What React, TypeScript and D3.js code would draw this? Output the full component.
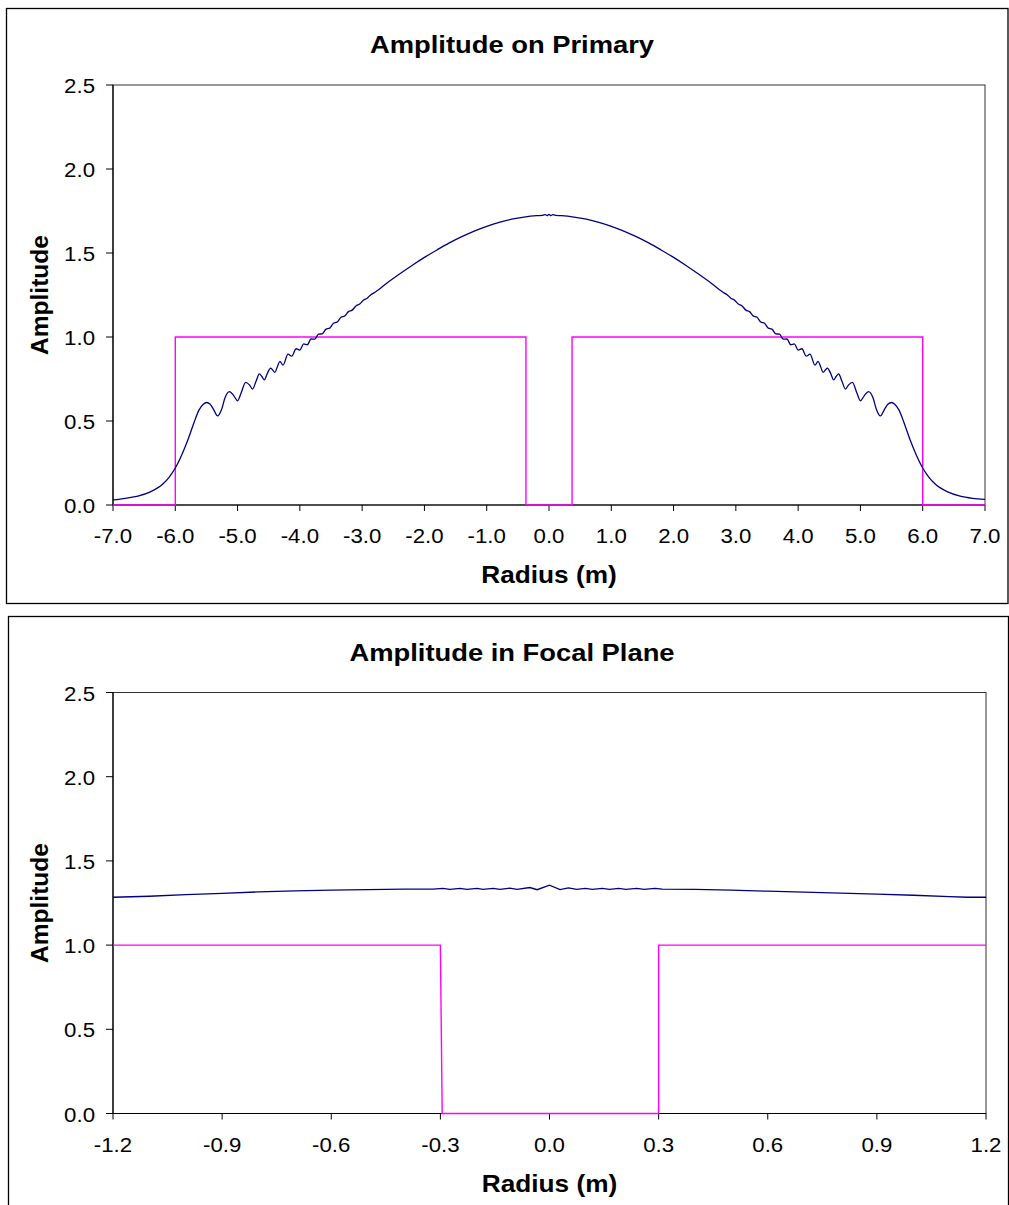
import React from "react";
import * as d3 from "d3";

// ---------- DATA ----------
const primaryTitle = "Amplitude on Primary";
const focalTitle = "Amplitude in Focal Plane";
const xAxisTitle = "Radius (m)";
const yAxisTitle = "Amplitude";

const primaryXTicks = [-7, -6, -5, -4, -3, -2, -1, 0, 1, 2, 3, 4, 5, 6, 7];
const focalXTicks = [-1.2, -0.9, -0.6, -0.3, 0, 0.3, 0.6, 0.9, 1.2];
const yTicks = [0, 0.5, 1.0, 1.5, 2.0, 2.5];

// Blue curve on the primary: [radius, amplitude]
const primaryCurve: [number, number][] = [
  [-7.0, 0.03], [-6.8, 0.04], [-6.6, 0.053], [-6.4, 0.078], [-6.2, 0.125], [-6.1, 0.165],
  [-6.0, 0.22], [-5.9, 0.295], [-5.8, 0.385], [-5.7, 0.49], [-5.62, 0.565], [-5.55, 0.6],
  [-5.5, 0.61], [-5.44, 0.6], [-5.38, 0.565], [-5.32, 0.53], [-5.26, 0.565], [-5.2, 0.64],
  [-5.13, 0.675], [-5.06, 0.65], [-5.0, 0.62], [-4.94, 0.67], [-4.87, 0.73], [-4.81, 0.715],
  [-4.76, 0.69], [-4.7, 0.74], [-4.65, 0.78], [-4.61, 0.765], [-4.57, 0.745], [-4.52, 0.785],
  [-4.47, 0.815], [-4.44, 0.805], [-4.4, 0.79], [-4.36, 0.825], [-4.32, 0.855], [-4.27, 0.833],
  [-4.19, 0.898], [-4.13, 0.886], [-4.06, 0.93], [-4.0, 0.922], [-3.94, 0.959], [-3.88, 0.954],
  [-3.82, 0.988], [-3.76, 0.987], [-3.7, 1.017], [-3.64, 1.019], [-3.58, 1.047], [-3.52, 1.053],
  [-3.46, 1.082], [-3.4, 1.089], [-3.34, 1.117], [-3.28, 1.125], [-3.22, 1.151], [-3.16, 1.16],
  [-3.1, 1.185], [-3.04, 1.196], [-2.98, 1.219], [-2.92, 1.231], [-2.86, 1.252], [-2.8, 1.265],
  [-2.6, 1.322], [-2.4, 1.375], [-2.2, 1.426], [-2.0, 1.474], [-1.8, 1.518], [-1.6, 1.56],
  [-1.4, 1.597], [-1.2, 1.63], [-1.0, 1.658], [-0.8, 1.682], [-0.6, 1.701], [-0.4, 1.714],
  [-0.2, 1.722], [-0.1, 1.724], [-0.06, 1.729], [-0.03, 1.722], [0.0, 1.73],
  [0.03, 1.722], [0.06, 1.729], [0.1, 1.724], [0.2, 1.722], [0.4, 1.714], [0.6, 1.701],
  [0.8, 1.682], [1.0, 1.658], [1.2, 1.63], [1.4, 1.597], [1.6, 1.56], [1.8, 1.518],
  [2.0, 1.474], [2.2, 1.426], [2.4, 1.375], [2.6, 1.322], [2.8, 1.265], [2.86, 1.252],
  [2.92, 1.231], [2.98, 1.219], [3.04, 1.196], [3.1, 1.185], [3.16, 1.16], [3.22, 1.151],
  [3.28, 1.125], [3.34, 1.117], [3.4, 1.089], [3.46, 1.082], [3.52, 1.053], [3.58, 1.047],
  [3.64, 1.019], [3.7, 1.017], [3.76, 0.987], [3.82, 0.988], [3.88, 0.954], [3.94, 0.959],
  [4.0, 0.922], [4.06, 0.93], [4.13, 0.886], [4.19, 0.898], [4.27, 0.833], [4.32, 0.855],
  [4.36, 0.825], [4.4, 0.79], [4.44, 0.805], [4.47, 0.815], [4.52, 0.785], [4.57, 0.745],
  [4.61, 0.765], [4.65, 0.78], [4.7, 0.74], [4.76, 0.69], [4.81, 0.715], [4.87, 0.73],
  [4.94, 0.67], [5.0, 0.62], [5.06, 0.65], [5.13, 0.675], [5.2, 0.64], [5.26, 0.565],
  [5.32, 0.53], [5.38, 0.565], [5.44, 0.6], [5.5, 0.61], [5.55, 0.6], [5.62, 0.565],
  [5.7, 0.49], [5.8, 0.385], [5.9, 0.295], [6.0, 0.22], [6.1, 0.165], [6.2, 0.125],
  [6.4, 0.078], [6.6, 0.053], [6.8, 0.04], [7.0, 0.033],
];

// Magenta aperture mask on the primary
const primaryMask: [number, number][] = [
  [-7, 0], [-6, 0], [-6, 1], [-0.37, 1], [-0.37, 0], [0.37, 0], [0.37, 1], [6, 1], [6, 0], [7, 0],
];

// Blue curve in the focal plane
const focalCurve: [number, number][] = [
  [-1.2, 1.284], [-1.1, 1.29], [-1.0, 1.3], [-0.9, 1.307], [-0.8, 1.316], [-0.7, 1.322],
  [-0.6, 1.327], [-0.5, 1.33], [-0.4, 1.332], [-0.32, 1.332], [-0.293, 1.337], [-0.274, 1.331],
  [-0.246, 1.337], [-0.227, 1.331], [-0.199, 1.337], [-0.183, 1.331], [-0.155, 1.337], [-0.136, 1.331],
  [-0.109, 1.338], [-0.089, 1.331], [-0.054, 1.342], [-0.034, 1.329], [0.0, 1.356], [0.029, 1.33],
  [0.052, 1.34], [0.075, 1.331], [0.098, 1.337], [0.118, 1.331], [0.145, 1.337], [0.165, 1.331],
  [0.19, 1.337], [0.21, 1.331], [0.24, 1.337], [0.26, 1.331], [0.29, 1.337], [0.31, 1.332],
  [0.4, 1.331], [0.5, 1.326], [0.6, 1.32], [0.7, 1.314], [0.8, 1.309], [0.9, 1.303],
  [1.0, 1.296], [1.1, 1.288], [1.15, 1.284], [1.2, 1.284],
];

// Magenta mask in the focal plane
const focalMask: [number, number][] = [
  [-1.2, 1], [-0.3, 1], [-0.295, 0], [0.3, 0], [0.3, 1], [1.2, 1],
];

// ---------- RENDERING ----------
const FONT = "'Liberation Sans', Arial, Helvetica, sans-serif";
const BLUE = "#000080";
const MAGENTA = "#FF00FF";
const SX = 1.14; // horizontal stretch of the text in the original picture

type PanelProps = {
  box: { x: number; y: number; w: number; h: number };
  plot: { l: number; t: number; r: number; b: number };
  xDomain: [number, number];
  xTicks: number[];
  tickFmt: (v: number) => string;
  title: string;
  curve: [number, number][];
  mask: [number, number][];
  smooth: boolean;
};

function STxt(props: { x: number; y: number; anchor: string; size: number; bold?: boolean; children: string }) {
  const { x, y, anchor, size, bold, children } = props;
  return (
    <text
      transform={`translate(${x},${y}) scale(${SX},1)`}
      textAnchor={anchor}
      fontFamily={FONT}
      fontSize={size}
      fontWeight={bold ? "bold" : "normal"}
      fill="#000"
    >
      {children}
    </text>
  );
}

function Panel(p: PanelProps) {
  const { box, plot } = p;
  const x = d3.scaleLinear().domain(p.xDomain).range([plot.l, plot.r]);
  const y = d3.scaleLinear().domain([0, 2.5]).range([plot.b, plot.t]);
  const lineGen = d3
    .line<[number, number]>()
    .x((d) => x(d[0]))
    .y((d) => y(d[1]))
    .curve(p.smooth ? d3.curveMonotoneX : d3.curveLinear);
  const maskGen = d3
    .line<[number, number]>()
    .x((d) => x(d[0]))
    .y((d) => y(d[1]));
  const cx = (plot.l + plot.r) / 2;
  const cy = (plot.t + plot.b) / 2;
  return (
    <g>
      <rect x={box.x} y={box.y} width={box.w} height={box.h} fill="#fff" stroke="#000" strokeWidth={1.3} />
      <rect x={plot.l} y={plot.t} width={plot.r - plot.l} height={plot.b - plot.t} fill="#fff" stroke="#333" strokeWidth={1} />
      {yTicks.map((t) => (
        <g key={"y" + t}>
          <line x1={plot.l - 7} x2={plot.l} y1={y(t)} y2={y(t)} stroke="#000" strokeWidth={1} />
          <STxt x={95} y={y(t) + 8} anchor="end" size={19.5}>
            {t.toFixed(1)}
          </STxt>
        </g>
      ))}
      {p.xTicks.map((t) => (
        <g key={"x" + t}>
          <line x1={x(t)} x2={x(t)} y1={plot.b} y2={plot.b + 6} stroke="#000" strokeWidth={1} />
          <STxt x={x(t)} y={plot.b + 38} anchor="middle" size={19.5}>
            {p.tickFmt(t)}
          </STxt>
        </g>
      ))}
      <line x1={plot.l} x2={plot.l} y1={plot.t} y2={plot.b} stroke="#000" strokeWidth={1.2} />
      <line x1={plot.l} x2={plot.r} y1={plot.b} y2={plot.b} stroke="#000" strokeWidth={1.2} />
      <path d={maskGen(p.mask) || ""} fill="none" stroke={MAGENTA} strokeWidth={1.4} />
      <path d={lineGen(p.curve) || ""} fill="none" stroke={BLUE} strokeWidth={1.3} />
      <STxt x={512} y={box.y + 44} anchor="middle" size={24} bold>
        {p.title}
      </STxt>
      <STxt x={cx} y={plot.b + 78} anchor="middle" size={23} bold>
        {xAxisTitle}
      </STxt>
      <text
        transform={`translate(48,${cy}) rotate(-90)`}
        textAnchor="middle"
        fontFamily={FONT}
        fontSize={24.5}
        fontWeight="bold"
      >
        {yAxisTitle}
      </text>
    </g>
  );
}

export default function App() {
  return (
    <svg
      width={1009}
      height={1205}
      viewBox="0 0 1009 1205"
      style={{ position: "absolute", left: 0, top: 0, background: "#fff", display: "block" }}
    >
      <rect x={0} y={0} width={1009} height={1205} fill="#fff" />
      <Panel
        box={{ x: 6.5, y: 8.5, w: 1001.5, h: 595 }}
        plot={{ l: 113, t: 85, r: 985, b: 505 }}
        xDomain={[-7, 7]}
        xTicks={primaryXTicks}
        tickFmt={(v) => v.toFixed(1)}
        title={primaryTitle}
        curve={primaryCurve}
        mask={primaryMask}
        smooth={true}
      />
      <Panel
        box={{ x: 8.5, y: 616.5, w: 1000, h: 600 }}
        plot={{ l: 113, t: 692.5, r: 986, b: 1113.5 }}
        xDomain={[-1.2, 1.2]}
        xTicks={focalXTicks}
        tickFmt={(v) => v.toFixed(1)}
        title={focalTitle}
        curve={focalCurve}
        mask={focalMask}
        smooth={false}
      />
    </svg>
  );
}
